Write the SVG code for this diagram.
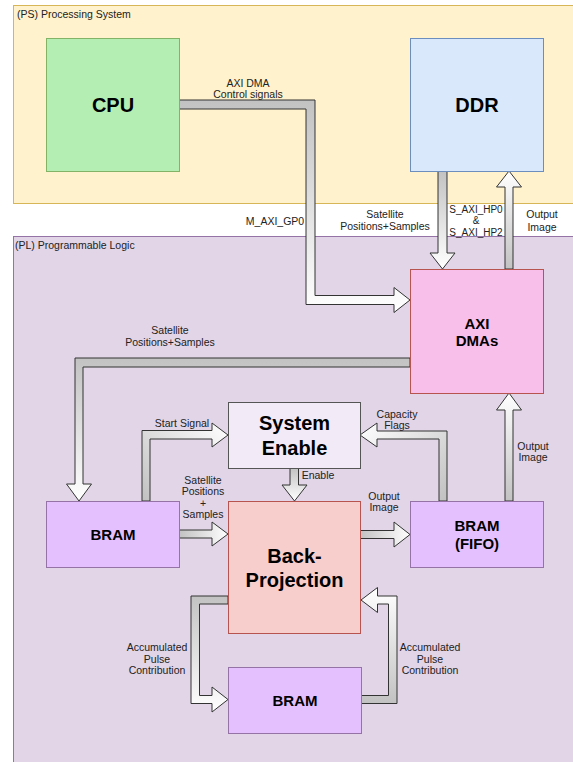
<svg xmlns="http://www.w3.org/2000/svg" width="573" height="762" viewBox="0 0 573 762">
<style>
.cont{stroke-width:1}
.box{stroke-width:1}
.t{font-family:"Liberation Sans",Arial,sans-serif;dominant-baseline:central;text-anchor:middle}
.big{font-size:20px;font-weight:bold;fill:#000}
.mid{font-size:15px;font-weight:bold;fill:#000}
.lbl{font-size:10.5px;fill:#222}
.sm{font-size:10px}
.ct{font-family:"Liberation Sans",Arial,sans-serif;font-size:10.5px;fill:#222;dominant-baseline:central}
.arr{stroke:#333;stroke-width:1;stroke-linejoin:miter}
</style>
<defs>
<linearGradient id="g1" gradientUnits="userSpaceOnUse" x1="0" y1="100" x2="0" y2="313"><stop offset="0" stop-color="#c2c2c2"/><stop offset="1" stop-color="#fff"/></linearGradient>
<linearGradient id="g2" gradientUnits="userSpaceOnUse" x1="0" y1="358" x2="0" y2="501"><stop offset="0" stop-color="#c2c2c2"/><stop offset="1" stop-color="#fff"/></linearGradient>
<linearGradient id="g3" gradientUnits="userSpaceOnUse" x1="0" y1="171" x2="0" y2="269"><stop offset="0" stop-color="#c2c2c2"/><stop offset="1" stop-color="#fff"/></linearGradient>
<linearGradient id="g4" gradientUnits="userSpaceOnUse" x1="0" y1="269" x2="0" y2="171"><stop offset="0" stop-color="#c2c2c2"/><stop offset="1" stop-color="#fff"/></linearGradient>
<linearGradient id="g5" gradientUnits="userSpaceOnUse" x1="146" y1="501" x2="228" y2="423"><stop offset="0" stop-color="#c2c2c2"/><stop offset="1" stop-color="#fff"/></linearGradient>
<linearGradient id="g6" gradientUnits="userSpaceOnUse" x1="443" y1="501" x2="360" y2="423"><stop offset="0" stop-color="#c2c2c2"/><stop offset="1" stop-color="#fff"/></linearGradient>
<linearGradient id="g7" gradientUnits="userSpaceOnUse" x1="0" y1="501" x2="0" y2="393"><stop offset="0" stop-color="#c2c2c2"/><stop offset="1" stop-color="#fff"/></linearGradient>
<linearGradient id="g8" gradientUnits="userSpaceOnUse" x1="0" y1="468" x2="0" y2="501"><stop offset="0" stop-color="#c2c2c2"/><stop offset="1" stop-color="#fff"/></linearGradient>
<linearGradient id="g9" gradientUnits="userSpaceOnUse" x1="179" y1="0" x2="228" y2="0"><stop offset="0" stop-color="#c2c2c2"/><stop offset="1" stop-color="#fff"/></linearGradient>
<linearGradient id="g10" gradientUnits="userSpaceOnUse" x1="360" y1="0" x2="410" y2="0"><stop offset="0" stop-color="#c2c2c2"/><stop offset="1" stop-color="#fff"/></linearGradient>
<linearGradient id="g11" gradientUnits="userSpaceOnUse" x1="0" y1="596" x2="0" y2="712"><stop offset="0" stop-color="#c2c2c2"/><stop offset="1" stop-color="#fff"/></linearGradient>
<linearGradient id="g12" gradientUnits="userSpaceOnUse" x1="0" y1="703.5" x2="0" y2="587.5"><stop offset="0" stop-color="#c2c2c2"/><stop offset="1" stop-color="#fff"/></linearGradient>
</defs>
<rect width="573" height="762" fill="#fff"/>
<g id="ps">
<rect class="cont" x="13.5" y="5.5" width="600" height="198" fill="#fff2cc" stroke="#d6b656"/>
<text class="ct" x="17" y="14">(PS) Processing System</text>
</g>
<g id="pl">
<rect class="cont" x="13.5" y="236.5" width="600" height="600" fill="#e1d5e7" stroke="#9673a6"/>
<text class="ct" x="15" y="245">(PL) Programmable Logic</text>
</g>
<g id="connectors">
<polygon class="arr" fill="url(#g1)" points="179,100 315,100 315,295.5 394,295.5 394,287.5 410,300 394,312.5 394,304.5 306,304.5 306,109 179,109"/>
<polygon class="arr" fill="url(#g2)" points="410,358 75,358 75,484 66.5,484 79,501 91.5,484 83,484 83,367 410,367"/>
<polygon class="arr" fill="url(#g3)" points="438,171 438,253 430,253 442.5,269 455,253 447,253 447,171"/>
<polygon class="arr" fill="url(#g4)" points="505,269 505,187 496.5,187 509,171 521.5,187 513,187 513,269"/>
<polygon class="arr" fill="url(#g5)" points="142,501 142,430.5 212,430.5 212,423 228,435 212,447 212,439 150,439 150,501"/>
<polygon class="arr" fill="url(#g6)" points="447,501 447,431 377,431 377,423 360,435 377,447 377,439 439,439 439,501"/>
<polygon class="arr" fill="url(#g7)" points="505,501 505,410 496.5,410 509,393 521.5,410 513,410 513,501"/>
<polygon class="arr" fill="url(#g8)" points="290,468 290,485 282,485 294.5,501 307,485 298.5,485 298.5,468"/>
<polygon class="arr" fill="url(#g9)" points="179,530 212,530 212,522 228,534 212,546 212,538 179,538"/>
<polygon class="arr" fill="url(#g10)" points="360,530.5 394,530.5 394,522 410,534.5 394,547 394,538.5 360,538.5"/>
<polygon class="arr" fill="url(#g11)" points="228,596 191,596 191,703.5 212,703.5 212,712 228,699.5 212,687 212,695.5 199.5,695.5 199.5,604 228,604"/>
<polygon class="arr" fill="url(#g12)" points="361,695.5 388.5,695.5 388.5,604 377.5,604 377.5,612.5 361,600 377.5,587.5 377.5,596 397,596 397,703.5 361,703.5"/>
<text class="t lbl" x="248" y="83">AXI DMA</text>
<text class="t lbl" x="248" y="94">Control signals</text>
<text class="t lbl" x="275" y="221">M_AXI_GP0</text>
<text class="t lbl" x="385" y="214">Satellite</text>
<text class="t lbl" x="385" y="226">Positions+Samples</text>
<text class="t lbl sm" x="476" y="209">S_AXI_HP0</text>
<text class="t lbl sm" x="476" y="220.5">&amp;</text>
<text class="t lbl sm" x="476" y="232">S_AXI_HP2</text>
<text class="t lbl" x="542" y="214">Output</text>
<text class="t lbl" x="542" y="227">Image</text>
<text class="t lbl" x="170" y="330">Satellite</text>
<text class="t lbl" x="170" y="342">Positions+Samples</text>
<text class="t lbl" x="182" y="423">Start Signal</text>
<text class="t lbl" x="397" y="414">Capacity</text>
<text class="t lbl" x="397" y="425">Flags</text>
<text class="t lbl" x="533" y="446">Output</text>
<text class="t lbl" x="533" y="457">Image</text>
<text class="t lbl" x="318" y="475">Enable</text>
<text class="t lbl" x="203" y="480">Satellite</text>
<text class="t lbl" x="203" y="491">Positions</text>
<text class="t lbl" x="203" y="502.5">+</text>
<text class="t lbl" x="203" y="514">Samples</text>
<text class="t lbl" x="384" y="496">Output</text>
<text class="t lbl" x="384" y="507">Image</text>
<text class="t lbl" x="157" y="647">Accumulated</text>
<text class="t lbl" x="157" y="659">Pulse</text>
<text class="t lbl" x="157" y="670">Contribution</text>
<text class="t lbl" x="430" y="647">Accumulated</text>
<text class="t lbl" x="430" y="659">Pulse</text>
<text class="t lbl" x="430" y="670">Contribution</text>
</g>
<g id="cpu">
<rect class="box" x="46.5" y="38.5" width="133" height="133" fill="#b5eeb2" stroke="#82b366"/>
<text class="t big" x="113" y="105">CPU</text>
</g>
<g id="ddr">
<rect class="box" x="410.5" y="38.5" width="133" height="133" fill="#dae8fc" stroke="#6c8ebf"/>
<text class="t big" x="477" y="105">DDR</text>
</g>
<g id="axidma">
<rect class="box" x="410.5" y="269.5" width="133" height="124" fill="#f8bfea" stroke="#b85450"/>
<text class="t mid" x="477" y="323">AXI</text>
<text class="t mid" x="477" y="340">DMAs</text>
</g>
<g id="sysenable">
<rect class="box" x="228.5" y="402.5" width="132" height="66" fill="#f3eaf8" stroke="#555"/>
<text class="t big" x="294.5" y="423">System</text>
<text class="t big" x="294.5" y="447.5">Enable</text>
</g>
<g id="bram1">
<rect class="box" x="46.5" y="501.5" width="133" height="66" fill="#e5c0ff" stroke="#9673a6"/>
<text class="t mid" x="113" y="534">BRAM</text>
</g>
<g id="backproj">
<rect class="box" x="228.5" y="501.5" width="132" height="132" fill="#f8cecc" stroke="#b85450"/>
<text class="t big" x="294.5" y="556">Back-</text>
<text class="t big" x="294.5" y="580">Projection</text>
</g>
<g id="fifo">
<rect class="box" x="410.5" y="501.5" width="133" height="66" fill="#e5c0ff" stroke="#9673a6"/>
<text class="t mid" x="477" y="525">BRAM</text>
<text class="t mid" x="477" y="543">(FIFO)</text>
</g>
<g id="bram2">
<rect class="box" x="228.5" y="667.5" width="133" height="66" fill="#e5c0ff" stroke="#9673a6"/>
<text class="t mid" x="295" y="700">BRAM</text>
</g>
</svg>
